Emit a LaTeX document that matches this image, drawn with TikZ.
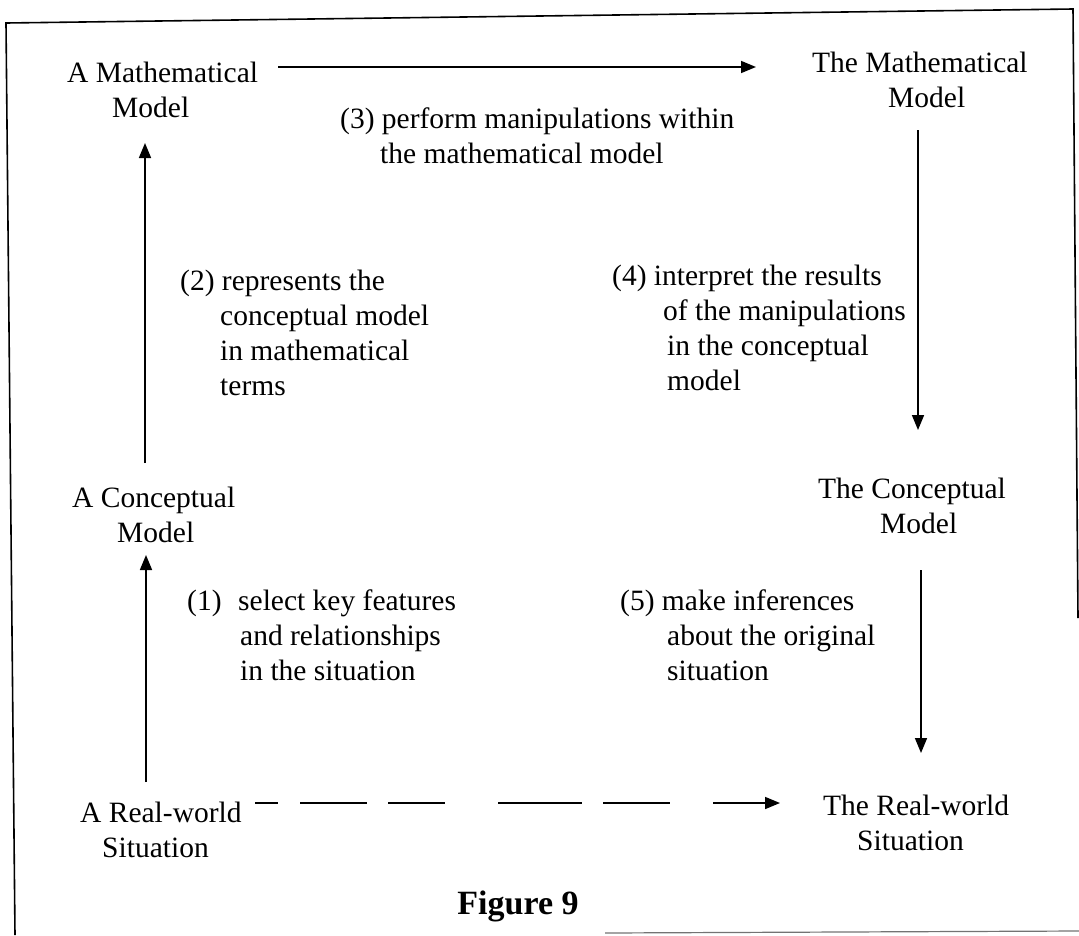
\documentclass[tikz,border=0pt]{standalone}
\usepackage{fontspec}
\setmainfont{Liberation Serif}
\usetikzlibrary{arrows.meta}
\begin{document}
\begin{tikzpicture}[x=1pt,y=-1pt,
  txt/.style={align=left,inner sep=0pt,anchor=base west,font=\fontsize{29.5}{35}\selectfont},
  arr/.style={line width=1.6pt,-{Triangle[length=15pt,width=12pt]}},
  dasharr/.style={arr,dash pattern=on 23pt off 22pt on 67pt off 21pt on 57pt off 53pt on 84pt off 21pt on 67pt off 43pt on 90pt},
  framestyle/.style={line width=1.6pt}]
\useasboundingbox (0,0) rectangle (1079,935);
% frame
\coordinate (f1) at (6,23);
\coordinate (f2) at (1073,9);
\coordinate (f3) at (1078,618);
\coordinate (f4) at (15,935);
\coordinate (f5) at (605,933);
\coordinate (f6) at (1079,931);
\draw[framestyle] (f4) -- (f1) -- (f2) -- (f3);
\draw[line width=1.2pt,black!55] (f5) -- (f6);
% model nodes (anchor = baseline of the last line)
\node[txt] (mm1) at (67,117) {A Mathematical\\\hspace*{45pt}Model};
\node[txt] (mm2) at (812,107) {The Mathematical\\\hspace*{76pt}Model};
\node[txt] (cm1) at (72,542) {A Conceptual\\\hspace*{45pt}Model};
\node[txt] (cm2) at (818,533) {The Conceptual\\\hspace*{62pt}Model};
\node[txt] (rw1) at (80,857) {A Real-world\\\hspace*{22pt}Situation};
\node[txt] (rw2) at (823,850) {The Real-world\\\hspace*{34pt}Situation};
% step labels
\node[txt] (l1) at (187,680) {\makebox[51pt][l]{(1)}select key features\\\hspace*{53pt}and relationships\\\hspace*{53pt}in the situation};
\node[txt] (l2) at (180,395) {(2) represents the\\\hspace*{40pt}conceptual model\\\hspace*{40pt}in mathematical\\\hspace*{40pt}terms};
\node[txt] (l3) at (340,163) {(3) perform manipulations within\\\hspace*{40pt}the mathematical model};
\node[txt] (l4) at (612,390) {(4) interpret the results\\\hspace*{51pt}of the manipulations\\\hspace*{55pt}in the conceptual\\\hspace*{55pt}model};
\node[txt] (l5) at (620,680) {(5) make inferences\\\hspace*{47pt}about the original\\\hspace*{47pt}situation};
\node[inner sep=0pt,anchor=base,font=\fontsize{34}{40}\selectfont\bfseries] (fig) at (518,914) {Figure 9};
% connector ends
\coordinate (a1s) at (146,782); \coordinate (a1e) at (146,555);
\coordinate (a2s) at (145,463); \coordinate (a2e) at (145,143);
\coordinate (a3s) at (278,67);  \coordinate (a3e) at (756,67);
\coordinate (a4s) at (918,130); \coordinate (a4e) at (918,430);
\coordinate (a5s) at (921,570); \coordinate (a5e) at (921,753);
\coordinate (a6s) at (255,803); \coordinate (a6e) at (780,803);
\draw[arr] (a1s) -- (a1e);
\draw[arr] (a2s) -- (a2e);
\draw[arr] (a3s) -- (a3e);
\draw[arr] (a4s) -- (a4e);
\draw[arr] (a5s) -- (a5e);
\draw[dasharr] (a6s) -- (a6e);
\end{tikzpicture}
\end{document}
